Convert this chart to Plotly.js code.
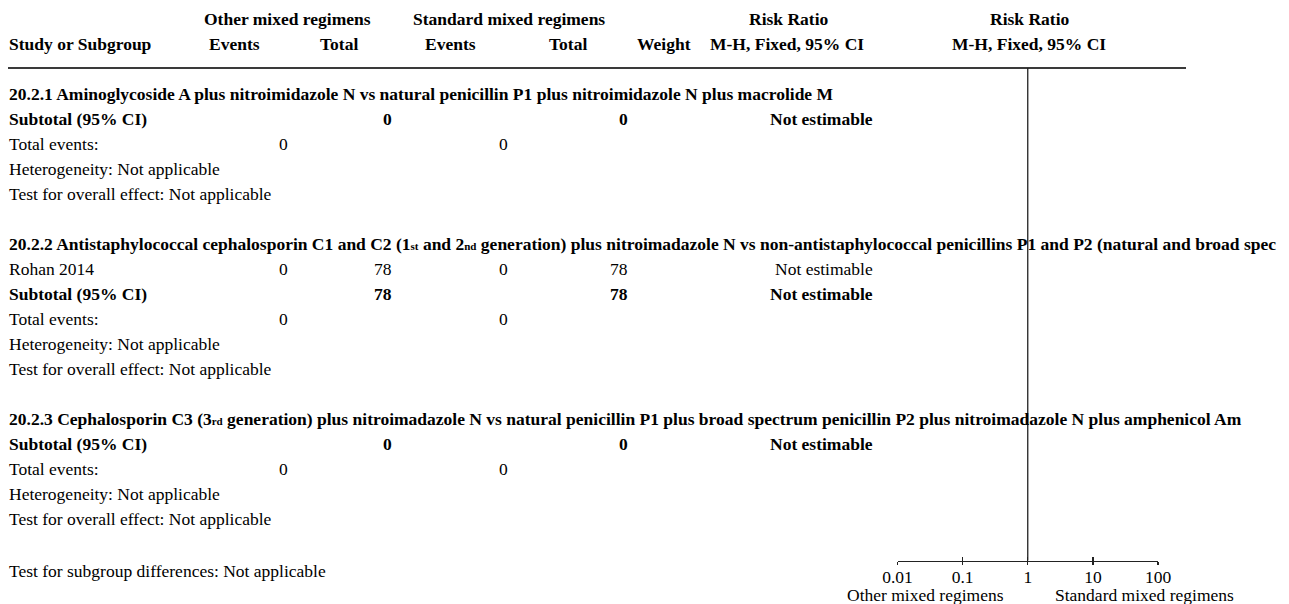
<!DOCTYPE html>
<html>
<head>
<meta charset="utf-8">
<script src="https://cdn.plot.ly/plotly-3.0.1.min.js"></script>
<style>html,body{margin:0;padding:0;background:#fff;}#chart{width:1289px;height:604px;}</style>
</head>
<body>
<div id="chart"></div>
<script>
// ---------- DATA ----------
const groupHeader1 = ["Other mixed regimens", "Standard mixed regimens", "Risk Ratio", "Risk Ratio"];
const groupHeader2 = ["Study or Subgroup", "Events", "Total", "Events", "Total", "Weight", "M-H, Fixed, 95% CI", "M-H, Fixed, 95% CI"];

const subgroupTitles = [
  "20.2.1 Aminoglycoside A plus nitroimidazole N vs natural penicillin P1 plus nitroimidazole N plus macrolide M",
  "20.2.2 Antistaphylococcal cephalosporin C1 and C2 (1<span style=\"font-size:11px\">st</span> and 2<span style=\"font-size:11px\">nd</span> generation) plus nitroimadazole N vs non-antistaphylococcal penicillins P1 and P2 (natural and broad spec",
  "20.2.3 Cephalosporin C3 (3<span style=\"font-size:11px\">rd</span> generation) plus nitroimadazole N vs natural penicillin P1 plus broad spectrum penicillin P2 plus nitroimadazole N plus amphenicol Am"
];

// studies
const studyNames   = ["Rohan 2014"];
const studyGroup   = [1];
const studyEvents1 = [0];
const studyTotal1  = [78];
const studyEvents2 = [0];
const studyTotal2  = [78];
const studyRR      = ["Not estimable"];

// subtotals per subgroup
const subtotalTotal1  = [0, 78, 0];
const subtotalTotal2  = [0, 78, 0];
const subtotalRR      = ["Not estimable", "Not estimable", "Not estimable"];
const totalEvents1    = [0, 0, 0];
const totalEvents2    = [0, 0, 0];
const heterogeneity   = ["Not applicable", "Not applicable", "Not applicable"];
const overallEffect   = ["Not applicable", "Not applicable", "Not applicable"];
const subgroupDiffText = "Test for subgroup differences: Not applicable";

// axis
const tickVals   = [0.01, 0.1, 1, 10, 100];
const tickLabels = ["0.01", "0.1", "1", "10", "100"];
const favoursLeft  = "Other mixed regimens";
const favoursRight = "Standard mixed regimens";

// ---------- LAYOUT HELPERS ----------
const W = 1289, H = 604;
const FONT = "Liberation Serif, 'Times New Roman', serif";
const FS = 17.5;
const px = v => v / W;

const ann = [];
function txt(x, y, text, anchor, bold, extra) {
  anchor = anchor || 'left';
  const dx = anchor === 'left' ? -2 : (anchor === 'right' ? 2.5 : 0);
  ann.push(Object.assign({
    xref: 'paper', yref: 'y', x: px(x + dx), y: y,
    text: bold ? '<b>' + text + '</b>' : text,
    showarrow: false, xanchor: anchor, yanchor: 'middle',
    font: {family: FONT, size: FS, color: '#000'}
  }, extra || {}));
}

// column positions
const C = {label: 9, ev1: 287, tot1: 391, ev2: 508, tot2: 627, rr: 872};

// header
const h1x = [287, 509, 788, 1029.5];
groupHeader1.forEach((t, i) => txt(h1x[i], 18.5, t, 'center', true));
const h2x = [9, 235, 339, 450, 568, 664, 787, 1029];
groupHeader2.forEach((t, i) => txt(h2x[i], 43.5, t, i === 0 ? 'left' : 'center', true));

// rows
const ROW = 25;
let y = 94;
subgroupTitles.forEach((title, g) => {
  txt(C.label, y, title, 'left', true); y += ROW;
  studyNames.forEach((s, k) => {
    if (studyGroup[k] !== g) return;
    txt(C.label, y, s, 'left', false);
    txt(C.ev1, y, String(studyEvents1[k]), 'right', false);
    txt(C.tot1, y, String(studyTotal1[k]), 'right', false);
    txt(C.ev2, y, String(studyEvents2[k]), 'right', false);
    txt(C.tot2, y, String(studyTotal2[k]), 'right', false);
    txt(C.rr, y, studyRR[k], 'right', false);
    y += ROW;
  });
  txt(C.label, y, "Subtotal (95% CI)", 'left', true);
  txt(C.tot1, y, String(subtotalTotal1[g]), 'right', true);
  txt(C.tot2, y, String(subtotalTotal2[g]), 'right', true);
  txt(C.rr, y, subtotalRR[g], 'right', true);
  y += ROW;
  txt(C.label, y, "Total events:", 'left', false);
  txt(C.ev1, y, String(totalEvents1[g]), 'right', false);
  txt(C.ev2, y, String(totalEvents2[g]), 'right', false);
  y += ROW;
  txt(C.label, y, "Heterogeneity: " + heterogeneity[g], 'left', false); y += ROW;
  txt(C.label, y, "Test for overall effect: " + overallEffect[g], 'left', false); y += ROW;
  y += ROW;
});
txt(C.label, 571, subgroupDiffText, 'left', false);
txt(925.5, 594.5, favoursLeft, 'center', false, {borderpad: 0});
txt(1144, 594.5, favoursRight, 'center', false, {borderpad: 0});

const AXIS_Y = 560.5;
const axPos = 1 - AXIS_Y / H;
const dom = [px(897.5), px(1158)];

const layout = {
  width: W, height: H,
  margin: {l: 0, r: 0, t: 0, b: 0, pad: 0},
  paper_bgcolor: '#fff', plot_bgcolor: 'rgba(0,0,0,0)',
  showlegend: false,
  xaxis: {
    type: 'log', range: [-2, 2], domain: dom, anchor: 'free', position: axPos,
    tickvals: tickVals, ticktext: tickLabels, ticks: 'inside', ticklen: 3.5, tickwidth: 1.3, tickcolor: '#222',
    showline: true, linecolor: '#222', linewidth: 1.3, showgrid: false, zeroline: false,
    tickfont: {family: FONT, size: FS, color: '#000'}, ticklabelstandoff: 0, fixedrange: true
  },
  xaxis2: {
    type: 'log', range: [-2, 2], overlaying: 'x', anchor: 'free', position: axPos,
    tickvals: tickVals, ticks: 'outside', ticklen: 3, tickwidth: 1.3, tickcolor: '#222',
    showticklabels: false, showline: false, showgrid: false, zeroline: false, fixedrange: true
  },
  yaxis: {range: [H, 0], domain: [0, 1], visible: false, fixedrange: true},
  shapes: [
    {type: 'line', xref: 'paper', yref: 'y', x0: px(8), x1: px(1186), y0: 68, y1: 68,
     line: {color: '#3a3a3a', width: 2}},
    {type: 'line', xref: 'x', yref: 'y', x0: 1, x1: 1, y0: 68, y1: AXIS_Y,
     line: {color: '#222', width: 1.3}}
  ],
  annotations: ann
};

const data = [
  {type: 'scatter', mode: 'markers', x: [], y: [], xaxis: 'x', yaxis: 'y', hoverinfo: 'skip'},
  {type: 'scatter', mode: 'markers', x: [], y: [], xaxis: 'x2', yaxis: 'y', hoverinfo: 'skip'}
];

Plotly.newPlot('chart', data, layout, {staticPlot: true, displayModeBar: false});
</script>
</body>
</html>
